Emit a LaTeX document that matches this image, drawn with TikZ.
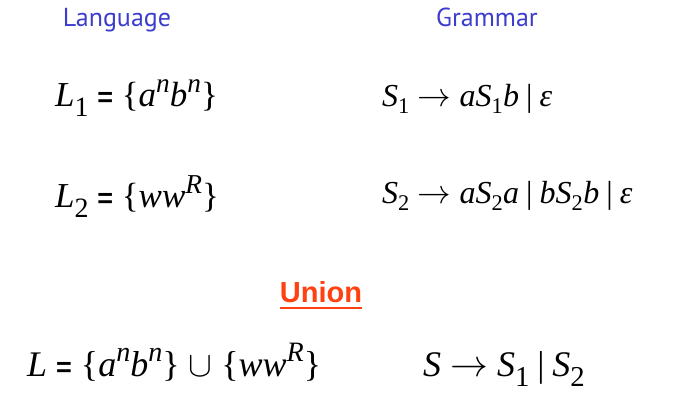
\documentclass[tikz,border=0pt]{standalone}
\usepackage{graphicx}
\usepackage{fontspec}
\setmainfont{Liberation Serif}
\setsansfont{Liberation Sans}
\newfontfamily\headfont{PT Sans}
\usetikzlibrary{positioning}
\definecolor{HeadBlue}{RGB}{60, 60, 205}
\definecolor{UnionRed}{RGB}{255, 64, 16}
\newcommand\boldeq{\hspace{0.25em}{\sffamily\bfseries\fontsize{27}{28}\selectfont =}\hspace{0.25em}}
\newcommand\vi[1]{\textit{#1}}
\newcommand\up[1]{\raisebox{0.42em}{\scalebox{0.78}{\textit{#1}}}}
\newcommand\dn[1]{\textsubscript{#1}}
\newcommand\dnbig[1]{\raisebox{-0.26em}{\scalebox{0.8}{#1}}}
\newcommand\alt{\hspace{0.22em}|\hspace{0.22em}}
\newcommand\arr{\hspace{0.25em}\resizebox{1.05em}{!}{$\rightarrow$}\hspace{0.25em}}
\newcommand\union{\hspace{0.25em}\resizebox{0.66em}{!}{$\cup$}\hspace{0.25em}}

\begin{document}
\begin{tikzpicture}[x=1pt, y=1pt,
        head/.style={anchor=base, inner sep=0pt, text=HeadBlue, font=\headfont\fontsize{26}{30}\selectfont},
        lang/.style={anchor=base west, inner sep=0pt, font=\fontsize{35}{40}\selectfont},
        gram/.style={anchor=base west, inner sep=0pt, font=\fontsize{32}{36}\selectfont}]
        \useasboundingbox (0,0) rectangle (693,406);

        % Column headings
        \node[head] (language) at (117, 379) {Language};
        \node[head] (grammar) at (487, 379) {Grammar};

        % First language and its grammar
        \node[lang] (langone) at (55, 299) {\vi{L}\dnbig{1}\boldeq\{\vi{a}\up{n}\vi{b}\up{n}\}};
        \node[gram] (gramone) at (382, 299) {\vi{S}\dn{1}\arr\vi{aS}\dn{1}\vi{b}\alt\vi{ε}};

        % Second language and its grammar
        \node[lang] (langtwo) at (55, 198) {\vi{L}\dnbig{2}\boldeq\{\vi{ww}\up{R}\}};
        \node[gram] (gramtwo) at (382, 202) {\vi{S}\dn{2}\arr\vi{aS}\dn{2}\vi{a}\alt\vi{bS}\dn{2}\vi{b}\alt\vi{ε}};

        % Union heading with a thick underline
        \node[anchor=base, inner sep=0pt, text=UnionRed, font=\sffamily\bfseries\fontsize{29}{32}\selectfont] (union) at (321, 103) {Union};
        \draw[UnionRed, line width=2.5pt] ([yshift=-5pt]union.base west) -- ([yshift=-5pt]union.base east);

        % Union language and its grammar
        \node[lang, font=\fontsize{36}{40}\selectfont] (langunion) at (27, 29) {\vi{L}\boldeq\{\vi{a}\up{n}\vi{b}\up{n}\}\union\{\vi{ww}\up{R}\}};
        \node[lang, font=\fontsize{36}{40}\selectfont] (gramunion) at (423, 29) {\vi{S}\arr\vi{S}\dnbig{1}\alt\vi{S}\dnbig{2}};
    \end{tikzpicture}
\end{document}
